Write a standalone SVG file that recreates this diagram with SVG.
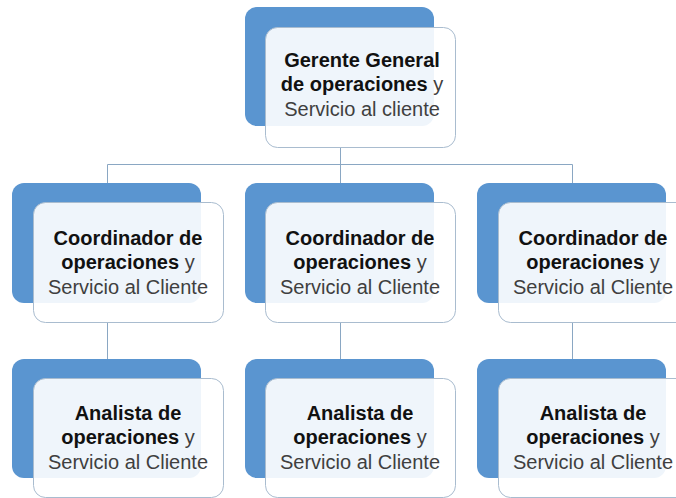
<svg xmlns="http://www.w3.org/2000/svg" width="676" height="498" viewBox="0 0 676 498">
<style>
.bk{fill:#5a95d0}
.fr{fill:#ffffff;fill-opacity:0.9;stroke:#a9bccf;stroke-width:1}
.ln{stroke:#8aa7c3;stroke-width:1;fill:none}
text{font-family:"Liberation Sans",Arial,sans-serif;font-size:20px;text-anchor:middle;fill:#3f3f3f}
.b{font-weight:bold;fill:#111111}
</style>
<rect width="676" height="498" fill="#ffffff"/>
<g id="connectors">
<path class="ln" d="M340.5 147V164.5M107.5 164.5H572.5M107.5 164.5V183M340.5 164.5V183M572.5 164.5V183"/>
<path class="ln" d="M107.5 323V359M340.5 323V359M572.5 323V359"/>
</g>
<g id="n0">
<rect class="bk" x="245" y="7" width="189" height="119" rx="12"/>
<rect class="fr" x="265.5" y="27.5" width="190" height="120" rx="12"/>
<text x="362" y="67"><tspan class="b">Gerente General</tspan></text>
<text x="362" y="91"><tspan class="b">de operaciones</tspan> y</text>
<text x="362" y="116">Servicio al cliente</text>
</g>
<g id="n1">
<rect class="bk" x="12" y="183" width="189" height="120" rx="12"/>
<rect class="fr" x="33.5" y="202.5" width="190" height="120" rx="12"/>
<text x="128" y="245"><tspan class="b">Coordinador de</tspan></text>
<text x="128" y="269"><tspan class="b">operaciones</tspan> y</text>
<text x="128" y="294">Servicio al Cliente</text>
</g>
<g id="n2">
<rect class="bk" x="245" y="183" width="189" height="120" rx="12"/>
<rect class="fr" x="265.5" y="202.5" width="190" height="120" rx="12"/>
<text x="360" y="245"><tspan class="b">Coordinador de</tspan></text>
<text x="360" y="269"><tspan class="b">operaciones</tspan> y</text>
<text x="360" y="294">Servicio al Cliente</text>
</g>
<g id="n3">
<rect class="bk" x="477" y="183" width="189" height="120" rx="12"/>
<rect class="fr" x="498.5" y="202.5" width="190" height="120" rx="12"/>
<text x="593" y="245"><tspan class="b">Coordinador de</tspan></text>
<text x="593" y="269"><tspan class="b">operaciones</tspan> y</text>
<text x="593" y="294">Servicio al Cliente</text>
</g>
<g id="n4">
<rect class="bk" x="12" y="359" width="189" height="119" rx="12"/>
<rect class="fr" x="33.5" y="378.5" width="190" height="119" rx="12"/>
<text x="128" y="420"><tspan class="b">Analista de</tspan></text>
<text x="128" y="444"><tspan class="b">operaciones</tspan> y</text>
<text x="128" y="469">Servicio al Cliente</text>
</g>
<g id="n5">
<rect class="bk" x="245" y="359" width="189" height="119" rx="12"/>
<rect class="fr" x="265.5" y="378.5" width="190" height="119" rx="12"/>
<text x="360" y="420"><tspan class="b">Analista de</tspan></text>
<text x="360" y="444"><tspan class="b">operaciones</tspan> y</text>
<text x="360" y="469">Servicio al Cliente</text>
</g>
<g id="n6">
<rect class="bk" x="477" y="359" width="189" height="119" rx="12"/>
<rect class="fr" x="498.5" y="378.5" width="190" height="119" rx="12"/>
<text x="593" y="420"><tspan class="b">Analista de</tspan></text>
<text x="593" y="444"><tspan class="b">operaciones</tspan> y</text>
<text x="593" y="469">Servicio al Cliente</text>
</g>
</svg>
